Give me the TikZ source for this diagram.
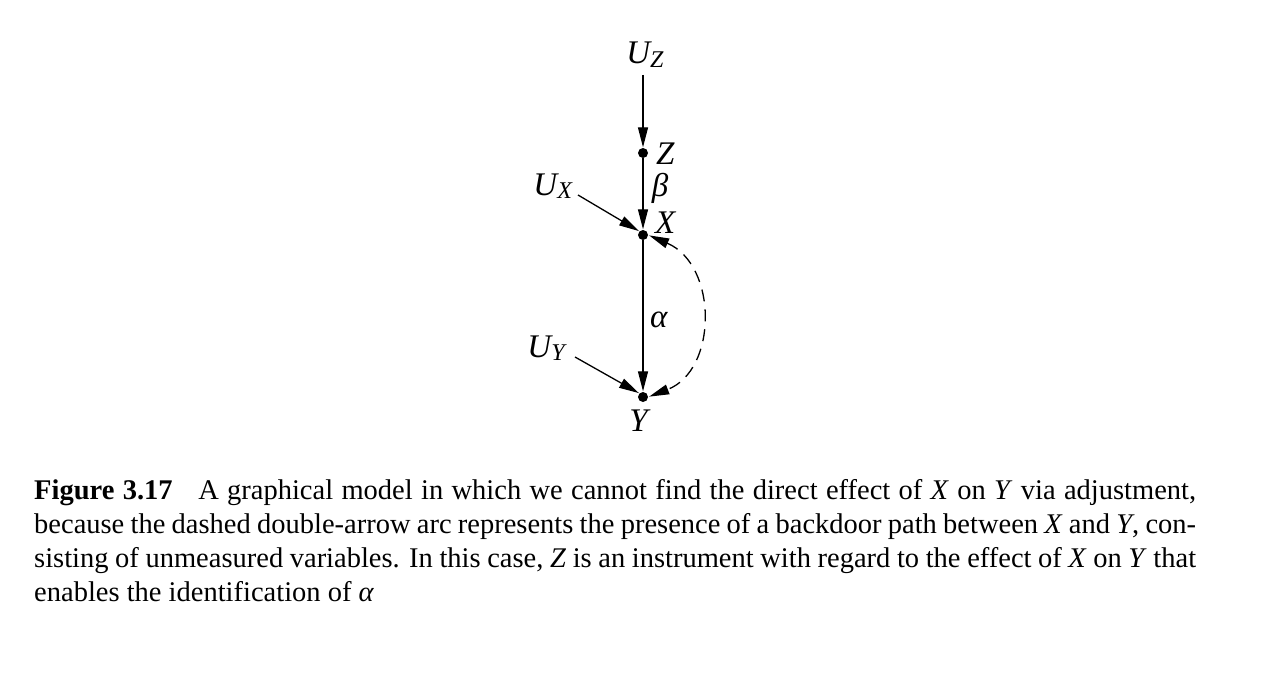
\documentclass[tikz,border=0pt]{standalone}
\usepackage{fontspec}
\setmainfont{Liberation Serif}
\usetikzlibrary{arrows.meta}
\newcommand\lbl[2]{\textit{#1}\kern-0.05em\raisebox{-0.12em}{\fontsize{24}{24}\selectfont\textit{#2}}}
\tikzset{
  pt/.style={circle,fill=black,inner sep=0pt,minimum size=10pt},
  lab/.style={font=\fontsize{33}{36}\selectfont,inner sep=0pt},
  arr/.style={-{Triangle[length=20pt,width=10pt]},line width=1.3pt,shorten >=0.5pt},
  darr/.style={{Triangle[length=20pt,width=10pt]}-{Triangle[length=20pt,width=10pt]},line width=1.3pt,dash pattern=on 12pt off 8pt,shorten >=1pt,shorten <=1pt},
  capline/.style={anchor=base west,inner sep=0pt,font=\fontsize{28.5}{34}\selectfont}
}
\begin{document}
\begin{tikzpicture}[x=1pt,y=-1pt]
\useasboundingbox (0,0) rectangle (1276,682);
\node[pt] (Z) at (643,153) {};
\node[pt] (X) at (643,235) {};
\node[pt] (Y) at (643,397) {};
\node[lab,anchor=base] (UZ) at (645,64) {\lbl{U}{Z}};
\node[lab,anchor=base west] (Zl) at (656,164) {\textit{Z}};
\node[lab,anchor=base] (beta) at (660,196) {\textit{β}};
\node[lab,anchor=base west] (Xl) at (655,233) {\textit{X}};
\node[lab,anchor=base] (UX) at (553,195) {\lbl{U}{X}};
\node[lab,anchor=base] (alpha) at (659,327) {\textit{α}};
\node[lab,anchor=base] (UY) at (547,357) {\lbl{U}{Y}};
\node[lab,anchor=base] (Yl) at (640,431) {\textit{Y}};
\coordinate (uzs) at (643,75);
\coordinate (uxs) at (578,195);
\coordinate (uys) at (575,357);
\draw[arr] (uzs) -- (Z.north);
\draw[arr] (Z) -- (X.north);
\draw[arr] (uxs) -- (X.north west);
\draw[arr] (X) -- (Y.north);
\draw[arr] (uys) -- (Y.north west);
\draw[darr] (X.east) .. controls (718,265) and (718,370) .. (Y.east);
\node[capline] (c1) at (34,499) {\makebox[1162pt][s]{\textbf{Figure 3.17}\hspace{0.9em}A graphical model in which we cannot find the direct effect of \textit{X} on \textit{Y} via adjustment,}};
\node[capline] (c2) at (34,533) {\makebox[1162pt][s]{because the dashed double-arrow arc represents the presence of a backdoor path between \textit{X} and \textit{Y}, con-}};
\node[capline] (c3) at (34,567) {\makebox[1162pt][s]{sisting of unmeasured variables. In this case, \textit{Z} is an instrument with regard to the effect of \textit{X} on \textit{Y} that}};
\node[capline] (c4) at (34,601) {enables the identification of \textit{α}};
\end{tikzpicture}
\end{document}
